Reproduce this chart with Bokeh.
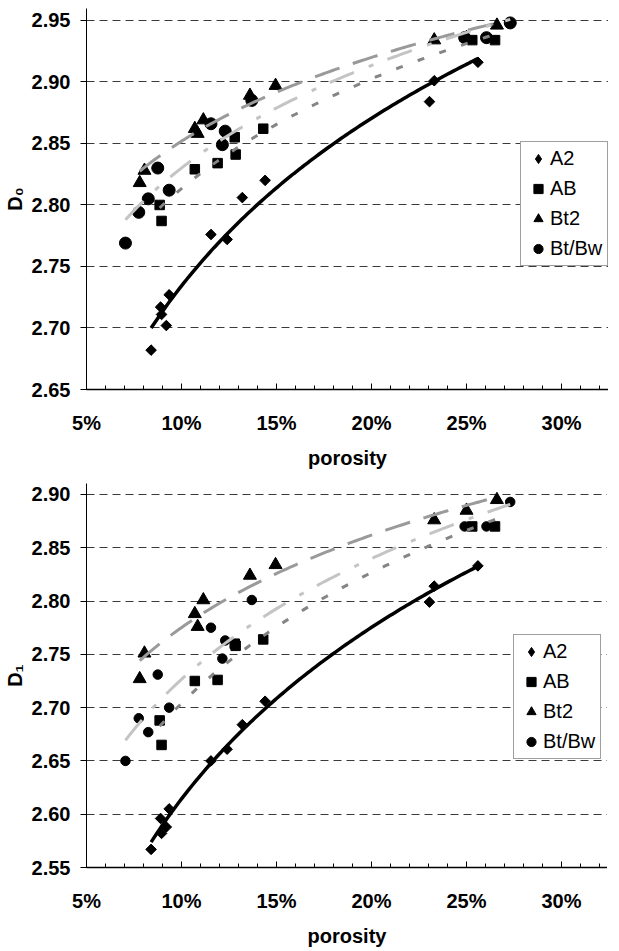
import numpy as np
from bokeh.plotting import figure
from bokeh.layouts import column
from bokeh.models import FixedTicker, NumeralTickFormatter, Legend, LegendItem, Range1d
from bokeh.embed import file_html
from bokeh.resources import INLINE

# ---- data (porosity as fraction, fractal dimensions D0 / D1) ----
a2_por = [0.084, 0.089, 0.0895, 0.092, 0.0935, 0.1155, 0.124, 0.132, 0.144, 0.2305, 0.233, 0.256]
a2_d0 = [2.682, 2.717, 2.711, 2.702, 2.727, 2.776, 2.772, 2.806, 2.820, 2.884, 2.901, 2.916]
a2_d1 = [2.567, 2.596, 2.582, 2.588, 2.605, 2.650, 2.661, 2.684, 2.706, 2.799, 2.814, 2.833]

ab_por = [0.0885, 0.0895, 0.107, 0.119, 0.128, 0.1285, 0.143, 0.253, 0.265]
ab_d0 = [2.800, 2.787, 2.829, 2.834, 2.855, 2.841, 2.862, 2.934, 2.934]
ab_d1 = [2.688, 2.665, 2.725, 2.726, 2.760, 2.758, 2.764, 2.870, 2.870]

bt2_por = [0.078, 0.0805, 0.107, 0.1085, 0.1115, 0.136, 0.1495, 0.233, 0.250, 0.266]
bt2_d0 = [2.818, 2.828, 2.862, 2.858, 2.869, 2.889, 2.897, 2.934, 2.936, 2.946]
bt2_d1 = [2.727, 2.751, 2.788, 2.776, 2.801, 2.824, 2.834, 2.876, 2.885, 2.895]

btbw_por = [0.0705, 0.0775, 0.0825, 0.0875, 0.0935, 0.1155, 0.123, 0.1215, 0.137, 0.249, 0.2605, 0.273]
btbw_d0 = [2.769, 2.794, 2.805, 2.830, 2.812, 2.866, 2.860, 2.849, 2.885, 2.936, 2.936, 2.948]
btbw_d1 = [2.650, 2.690, 2.677, 2.731, 2.700, 2.775, 2.763, 2.746, 2.801, 2.870, 2.870, 2.893]

series_names = ["A2", "AB", "Bt2", "Bt/Bw"]
x_major_ticks = [0.05, 0.10, 0.15, 0.20, 0.25, 0.30]
x_minor_ticks = [round(0.05 + 0.01 * i, 2) for i in range(28)]
d0_ticks = [2.65, 2.70, 2.75, 2.80, 2.85, 2.90, 2.95]
d1_ticks = [2.55, 2.60, 2.65, 2.70, 2.75, 2.80, 2.85, 2.90]

FONT = "Liberation Sans"


def log_trend(xs, ys):
    # least-squares logarithmic trendline (as a spreadsheet trendline)
    lx = np.log(np.array(xs))
    b, a = np.polyfit(lx, np.array(ys), 1)
    xx = np.linspace(min(xs), max(xs), 120)
    return xx, a + b * np.log(xx)


def make_fig(ylabel, yvals, yticks, y0, y1, x1, fw, fh, bl, bt, bb, circ, legend_loc):
    p = figure(frame_width=fw, frame_height=fh,
               x_range=Range1d(0.05, x1), y_range=Range1d(y0, y1),
               output_backend="svg", toolbar_location=None,
               min_border_left=bl, min_border_right=0,
               min_border_top=bt, min_border_bottom=bb,
               background_fill_color="white", border_fill_color="white")
    p.outline_line_color = None
    p.xgrid.visible = False
    p.ygrid.grid_line_color = "#3a3a3a"
    p.ygrid.grid_line_dash = "8 5"
    p.ygrid.grid_line_width = 1

    p.xaxis.ticker = FixedTicker(ticks=x_major_ticks, minor_ticks=x_minor_ticks)
    p.xaxis.formatter = NumeralTickFormatter(format="0%")
    p.yaxis.ticker = FixedTicker(ticks=yticks)
    p.yaxis.formatter = NumeralTickFormatter(format="0.00")

    for ax in (p.xaxis[0], p.yaxis[0]):
        ax.axis_line_color = "black"
        ax.major_tick_line_color = "black"
        ax.minor_tick_line_color = "black"
        ax.major_label_text_font = FONT
        ax.major_label_text_font_size = "20px"
        ax.major_label_text_font_style = "bold"
        ax.major_label_text_color = "black"
        ax.axis_label_text_font = FONT
        ax.axis_label_text_font_size = "20px"
        ax.axis_label_text_font_style = "bold"
        ax.axis_label_text_color = "black"

    xa = p.xaxis[0]
    xa.axis_line_width = 1.5
    xa.major_tick_in = 6
    xa.major_tick_out = 0
    xa.minor_tick_in = 4
    xa.minor_tick_out = 0
    xa.major_label_standoff = 22
    xa.axis_label = "porosity"
    xa.axis_label_standoff = 10

    ya = p.yaxis[0]
    ya.axis_line_width = 1
    ya.major_tick_in = 0
    ya.major_tick_out = 6
    ya.minor_tick_in = 0
    ya.minor_tick_out = 0
    ya.major_label_standoff = 10
    ya.axis_label = ylabel
    ya.axis_label_standoff = 3

    a2_y, ab_y, bt2_y, btbw_y = yvals
    # A2 diamond key renderer (drawn first, hidden beneath the A2 markers)
    r_a2_key = p.scatter(a2_por, a2_y, marker="diamond", size=9,
                         fill_color="black", line_color="black")
    r_a2 = p.scatter(a2_por, a2_y, marker="square", angle=np.pi / 4, size=7.5,
                     fill_color="black", line_color="black")
    r_ab = p.scatter(ab_por, ab_y, marker="square", size=9.5,
                     fill_color="black", line_color="black")
    r_bt2 = p.scatter(bt2_por, bt2_y, marker="triangle", size=13,
                      fill_color="black", line_color="black")
    r_btbw = p.scatter(btbw_por, btbw_y, marker="circle", size=circ,
                       fill_color="black", line_color="black")

    # trendlines drawn over the markers
    xx, yy = log_trend(bt2_por, bt2_y)
    p.line(xx, yy, line_color="#9a9a9a", line_width=3, line_dash="26 14")
    xx, yy = log_trend(btbw_por, btbw_y)
    p.line(xx, yy, line_color="#c4c4c4", line_width=3, line_dash="26 16 5 15")
    xx, yy = log_trend(ab_por, ab_y)
    p.line(xx, yy, line_color="#858585", line_width=3, line_dash="7 16")
    xx, yy = log_trend(a2_por, a2_y)
    p.line(xx, yy, line_color="black", line_width=3.5)

    legend = Legend(items=[LegendItem(label=n, renderers=[r]) for n, r in
                           zip(series_names, [r_a2_key, r_ab, r_bt2, r_btbw])],
                    location=legend_loc)
    legend.label_text_font = FONT
    legend.label_text_font_size = "20px"
    legend.label_text_color = "black"
    legend.glyph_width = 24
    legend.glyph_height = 23
    legend.label_height = 23
    legend.spacing = 7
    legend.padding = 5
    legend.margin = 0
    legend.label_standoff = 0
    legend.border_line_color = "#404040"
    legend.border_line_width = 1
    legend.background_fill_color = "white"
    legend.background_fill_alpha = 1.0
    p.add_layout(legend)
    return p


top = make_fig("D₀", (a2_d0, ab_d0, bt2_d0, btbw_d0), d0_ticks,
               2.65, 2.9597, 0.3247, 522, 381, 81, 8, 81, 12, (434, 123))
bottom = make_fig("D₁", (a2_d1, ab_d1, bt2_d1, btbw_d1), d1_ticks,
                  2.55, 2.9103, 0.3242, 521, 384, 82, 12, 77, 9.5, (427, 108))

layout = column(top, bottom, spacing=0)
open("out.html", "w").write(file_html(layout, INLINE))
